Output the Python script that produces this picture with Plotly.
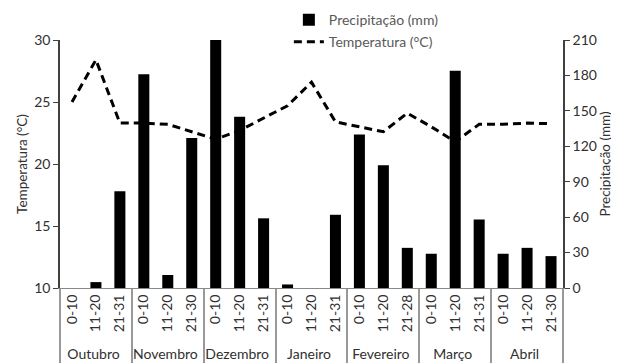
import plotly.graph_objects as go

months = ["Outubro", "Novembro", "Dezembro", "Janeiro", "Fevereiro", "Março", "Abril"]
periods = [
    ["0-10", "11-20", "21-31"],
    ["0-10", "11-20", "21-30"],
    ["0-10", "11-20", "21-31"],
    ["0-10", "11-20", "21-31"],
    ["0-10", "11-20", "21-28"],
    ["0-10", "11-20", "21-31"],
    ["0-10", "11-20", "21-30"],
]
precipitacao = [0, 5, 82, 181, 11, 127, 210, 145, 59, 3, 0, 62,
                130, 104, 34, 29, 184, 58, 29, 34, 27]
temperatura = [25.0, 28.4, 23.3, 23.3, 23.2, 22.6, 22.0, 22.7, 23.7, 24.7, 26.6, 23.4,
               23.0, 22.6, 24.1, 23.0, 21.8, 23.2, 23.2, 23.3, 23.25]

outer = [m for m, ps in zip(months, periods) for _ in ps]
inner = [p for ps in periods for p in ps]

FONT = "Lato, Open Sans, sans-serif"
TS = 14

fig = go.Figure()
fig.add_trace(go.Bar(
    x=[outer, inner], y=precipitacao, name="Precipitação (mm)", legendgroup="a",
    marker=dict(color="black", line=dict(width=0)), yaxis="y",
))
fig.add_trace(go.Scatter(
    x=[outer, inner], y=temperatura, name="Temperatura (°C)", mode="lines", legendgroup="b",
    line=dict(color="black", width=3, dash="8px,5px"), yaxis="y2",
))

# page body has an 8px margin: figure is offset by (8, 8)
fig.update_layout(
    width=611, height=355,
    margin=dict(l=52, r=56, t=32, b=75, autoexpand=False),
    paper_bgcolor="white", plot_bgcolor="white",
    font=dict(family=FONT, size=TS, color="#404040"),
    bargap=0.54,
    showlegend=True,
    legend=dict(x=0.455, y=1.145, xanchor="left", yanchor="top",
                font=dict(size=14, color="#595959"), bgcolor="rgba(0,0,0,0)",
                tracegroupgap=1, itemwidth=30),
    xaxis=dict(
        type="multicategory", showline=True, linecolor="#888888", linewidth=1,
        showgrid=False, ticks="", tickangle=-90, showdividers=True,
        dividercolor="#999999", dividerwidth=1.5, automargin=False,
        tickfont=dict(size=TS, color="#303030"),
    ),
    yaxis=dict(
        side="right", range=[0, 210], dtick=30, showgrid=False, zeroline=False,
        showline=True, linecolor="#404040", linewidth=1.5, ticks="outside", ticklen=5,
        tickcolor="#404040", automargin=False,
        title=dict(text="Precipitação (mm)", font=dict(size=13.5, color="#303030"), standoff=5),
        tickfont=dict(size=TS, color="#303030"),
    ),
    yaxis2=dict(
        side="left", overlaying="y", range=[10, 30], dtick=5, showgrid=False,
        zeroline=False, showline=True, linecolor="#404040", linewidth=1.5,
        ticks="outside", ticklen=5, tickcolor="#404040", automargin=False,
        title=dict(text="Temperatura (°C)", font=dict(size=13.5, color="#303030"), standoff=3),
        tickfont=dict(size=TS, color="#303030"),
    ),
)

fig.write_html("out.html")
